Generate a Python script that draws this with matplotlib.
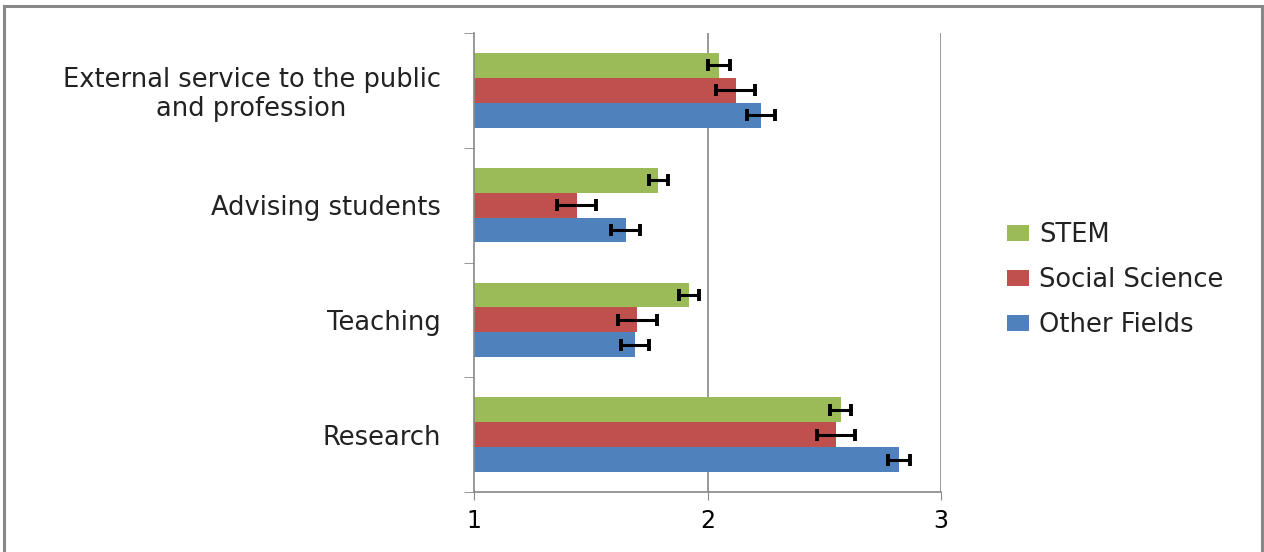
import numpy as np
import matplotlib
matplotlib.use("Agg")
import matplotlib.pyplot as plt
from matplotlib.patches import Rectangle

# data, bottom to top
categories = ["Research", "Teaching", "Advising students",
              "External service to the public\nand profession"]
series = ["Other Fields", "Social Science", "STEM"]
other_fields = [2.82, 1.69, 1.65, 2.23]
social_science = [2.55, 1.70, 1.44, 2.12]
stem = [2.57, 1.92, 1.79, 2.05]
err_other = [0.046, 0.061, 0.063, 0.060]
err_social = [0.083, 0.083, 0.083, 0.083]
err_stem = [0.044, 0.043, 0.040, 0.046]

colors = ["#4f81bd", "#c0504d", "#9bbb59"]

plt.rcParams['font.family'] = ['DejaVu Sans']

fig = plt.figure(figsize=(12.64, 5.52), dpi=100)
ax = fig.add_axes([474/1264, 1-492/552, (941-474)/1264, (492-33)/552])

y = np.arange(len(categories))
h = 0.217
vals = [other_fields, social_science, stem]
errs = [err_other, err_social, err_stem]
for i in range(3):
    ax.barh(y + (i-1)*h, np.array(vals[i]) - 1, height=h, left=1,
            color=colors[i], label=series[i], zorder=2,
            xerr=errs[i], error_kw=dict(ecolor="black", elinewidth=2.2,
                                         capsize=4.5, capthick=2.8, zorder=3))

ax.set_xlim(1, 3)
ax.set_ylim(-0.5, len(categories)-0.5)
ax.set_xticks([1, 2, 3])
ax.set_xticklabels(["1", "2", "3"], fontsize=17)
ax.tick_params(axis='x', length=6, color="#888888", pad=6)
ax.set_yticks(y)
ax.set_yticklabels(categories, fontsize=18.5, linespacing=1.15, color="#222222")
ax.tick_params(axis='y', which='major', length=0, pad=24)
ax.set_yticks(np.arange(len(categories)+1) - 0.5, minor=True)
ax.tick_params(axis='y', which='minor', length=7, color="#888888")
for lab in ax.get_yticklabels():
    lab.set_horizontalalignment('right')
    lab.set_multialignment('center')

for x in [2, 3]:
    ax.axvline(x, color="#888888", lw=1.2, zorder=1)
for s in ["top", "right"]:
    ax.spines[s].set_visible(False)
for s in ["left", "bottom"]:
    ax.spines[s].set_color("#888888")
    ax.spines[s].set_linewidth(1.2)

handles, labels = ax.get_legend_handles_labels()
leg = fig.legend(handles[::-1], labels[::-1], loc="center left",
                 bbox_to_anchor=(984/1264, 1-280/552), frameon=False,
                 fontsize=18.5, handlelength=0.85, handleheight=0.6,
                 labelspacing=0.75, handletextpad=0.4)
for t in leg.get_texts():
    t.set_color("#222222")

fig.patches.append(Rectangle((4/1264, -0.05), (1262-4)/1264, 1.05 - 6/552,
                             transform=fig.transFigure, fill=False,
                             edgecolor="#888888", linewidth=2.2))

fig.savefig("out.png", dpi=100)
